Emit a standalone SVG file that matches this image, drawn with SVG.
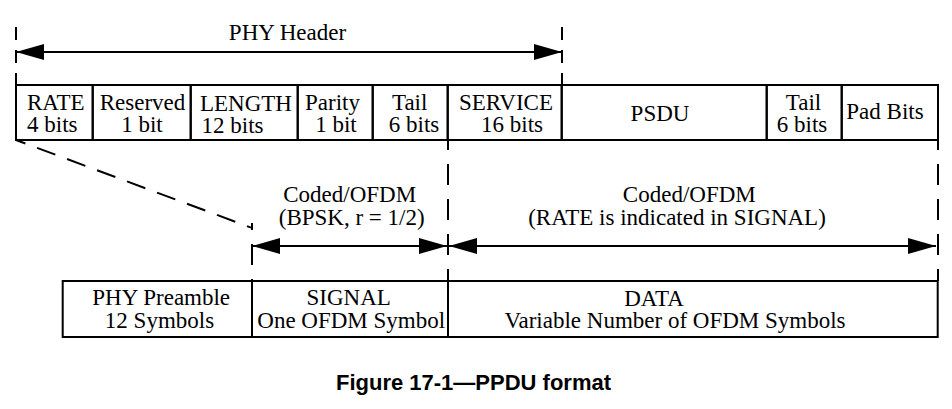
<svg xmlns="http://www.w3.org/2000/svg" width="952" height="409" viewBox="0 0 952 409">
<style>
.cell{fill:none;stroke:#000;stroke-width:2}
.t{font-family:"Liberation Serif","Times New Roman",serif;font-size:23px;fill:#000}
.m{text-anchor:middle}
.dash{stroke:#000;stroke-width:2;fill:none}
.arr{stroke:#000;stroke-width:2;fill:none}
.cap{font-family:"Liberation Sans",Arial,sans-serif;font-weight:bold;font-size:22px;fill:#000;text-anchor:middle}
</style>
<defs>
<marker id="ah" viewBox="0 0 28 16" refX="28" refY="8" markerWidth="28" markerHeight="16" markerUnits="userSpaceOnUse" orient="auto-start-reverse">
<path d="M0,0 L28,8 L0,16 z" fill="#000"/>
</marker>
</defs>
<rect x="0" y="0" width="952" height="409" fill="#fff"/>

<g id="rate"><rect class="cell" x="16" y="85" width="76.7" height="55"/><text class="t" x="27" y="110">RATE</text><text class="t" x="27" y="132">4 bits</text></g>
<g id="reserved"><rect class="cell" x="92.7" y="85" width="98" height="55"/><text class="t m" x="142.5" y="110">Reserved</text><text class="t m" x="142" y="132">1 bit</text></g>
<g id="length"><rect class="cell" x="190.7" y="85" width="107" height="55"/><text class="t" x="200" y="111">LENGTH</text><text class="t" x="201.5" y="133">12 bits</text></g>
<g id="parity"><rect class="cell" x="297.7" y="85" width="75" height="55"/><text class="t m" x="332.5" y="110">Parity</text><text class="t m" x="336" y="132">1 bit</text></g>
<g id="tail1"><rect class="cell" x="372.7" y="85" width="75" height="55"/><text class="t m" x="409.7" y="110">Tail</text><text class="t m" x="414" y="132">6 bits</text></g>
<g id="service"><rect class="cell" x="447.7" y="85" width="114" height="55"/><text class="t m" x="506" y="110">SERVICE</text><text class="t m" x="512" y="132">16 bits</text></g>
<g id="psdu"><rect class="cell" x="561.7" y="85" width="205" height="55"/><text class="t m" x="660" y="121">PSDU</text></g>
<g id="tail2"><rect class="cell" x="766.7" y="85" width="75" height="55"/><text class="t m" x="803.5" y="110">Tail</text><text class="t m" x="802" y="132">6 bits</text></g>
<g id="pad"><rect class="cell" x="841.7" y="85" width="96.3" height="55"/><text class="t m" x="885" y="118.5">Pad Bits</text></g>

<g id="preamble"><rect class="cell" x="62.7" y="281" width="189.3" height="56"/><text class="t m" x="161.2" y="305">PHY Preamble</text><text class="t m" x="159.5" y="328.3">12 Symbols</text></g>
<g id="signal"><rect class="cell" x="252" y="281" width="196" height="56"/><text class="t m" x="348.7" y="305">SIGNAL</text><text class="t m" x="351.2" y="328.3">One OFDM Symbol</text></g>
<g id="data"><rect class="cell" x="448" y="281" width="489.7" height="56"/><text class="t m" x="654" y="305.5">DATA</text><text class="t m" x="675" y="328.3">Variable Number of OFDM Symbols</text></g>

<g id="connectors">
<line class="dash" x1="16" y1="27" x2="16" y2="85" stroke-dasharray="13 10"/>
<line class="dash" x1="562" y1="27" x2="562" y2="85" stroke-dasharray="13 10"/>
<line class="arr" x1="16" y1="52" x2="562" y2="52" marker-start="url(#ah)" marker-end="url(#ah)"/>
<text class="t m" x="287.5" y="40">PHY Header</text>

<line class="dash" x1="16" y1="140" x2="251" y2="227.6" stroke-width="1.5" stroke-dasharray="19.5 12.5" stroke-dashoffset="9.5"/>
<line class="dash" x1="252" y1="223" x2="252" y2="281" stroke-dasharray="21 14" stroke-dashoffset="14"/>
<line class="dash" x1="448" y1="140" x2="448" y2="281" stroke-dasharray="21 14" stroke-dashoffset="11"/>
<line class="dash" x1="938" y1="140" x2="938" y2="281" stroke-dasharray="21 14" stroke-dashoffset="11"/>

<line class="arr" x1="252" y1="246" x2="447" y2="246" marker-start="url(#ah)" marker-end="url(#ah)"/>
<line class="arr" x1="449" y1="246" x2="936" y2="246" marker-start="url(#ah)" marker-end="url(#ah)"/>
<text class="t m" x="349.7" y="201.7">Coded/OFDM</text>
<text class="t m" x="351.7" y="225">(BPSK, r = 1/2)</text>
<text class="t m" x="689.3" y="201.7">Coded/OFDM</text>
<text class="t m" x="677" y="225">(RATE is indicated in SIGNAL)</text>
</g>

<text class="cap" x="473.5" y="390">Figure 17-1—PPDU format</text>
</svg>
